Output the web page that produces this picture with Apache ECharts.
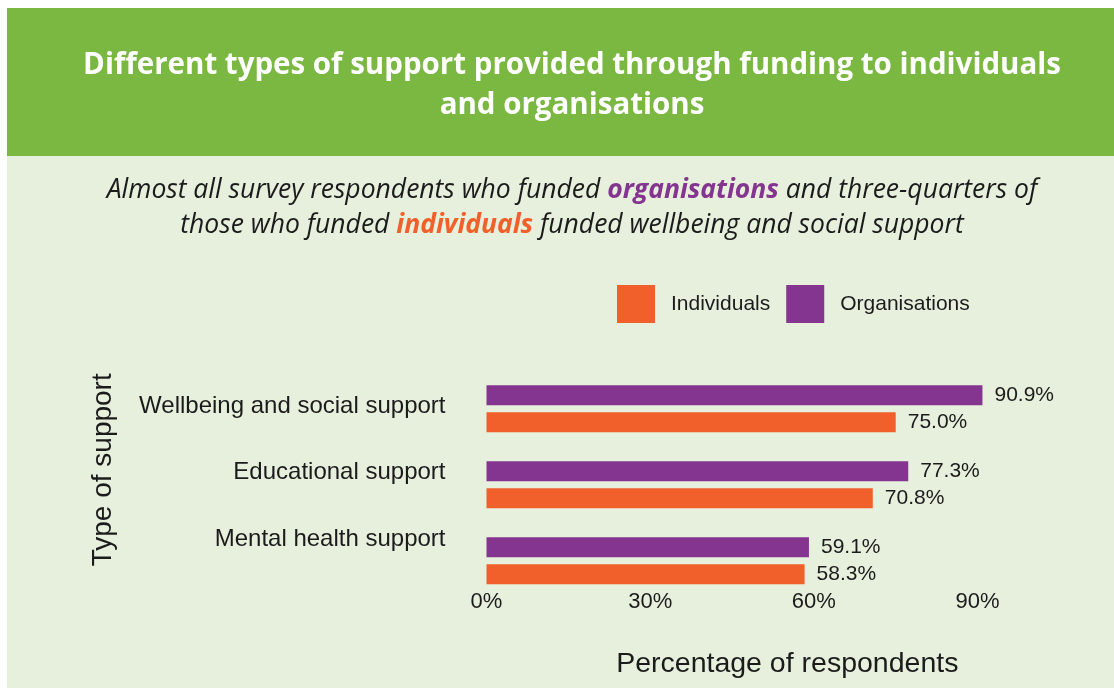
<!DOCTYPE html>
<html>
<head>
<meta charset="utf-8">
<title>Different types of support provided through funding</title>
<script src="https://cdn.jsdelivr.net/npm/echarts@6/dist/echarts.min.js"></script>
<style>
  html, body { margin: 0; padding: 0; background: #ffffff; }
  #chart { width: 1114px; height: 688px; }
</style>
</head>
<body>
<div id="chart"></div>
<script>
// Support types, listed from the bottom of the chart to the top
const categories = ['Mental health support', 'Educational support', 'Wellbeing and social support'];
// Share of respondents (%) who funded each type of support
const individuals = [58.3, 70.8, 75.0];
const organisations = [59.1, 77.3, 90.9];
const seriesNames = ['Individuals', 'Organisations'];
const axisTicks = { min: 0, max: 100, interval: 30 };

const ORANGE = '#F15F2A';
const PURPLE = '#84358F';
const GREEN = '#7AB842';
const PANEL = '#E7F0DD';
const INK = '#1b1b1b';
const SANS = '"Liberation Sans", Arial, sans-serif';
const HEAD = '"Open Sans", Lato, sans-serif';

const chart = echarts.init(document.getElementById('chart'));

const valueLabel = {
  show: true,
  position: 'right',
  distance: 12,
  color: INK,
  fontFamily: SANS,
  fontSize: 21,
  formatter: p => p.value.toFixed(1) + '%'
};

const plotLeft = 486.5;
const plotWidth = 545.6;

chart.setOption({
  backgroundColor: 'transparent',
  animation: false,
  graphic: [
    { type: 'rect', silent: true, z: -10, shape: { x: 7, y: 155, width: 1107, height: 533 }, style: { fill: PANEL } },
    { type: 'rect', silent: true, z: -10, shape: { x: 7, y: 8, width: 1107, height: 148 }, style: { fill: GREEN } }
  ],
  title: [
    {
      text: 'Different types of support provided through funding to individuals\nand organisations',
      left: 567,
      top: 41,
      textAlign: 'center',
      textStyle: {
        color: '#ffffff',
        fontFamily: HEAD,
        fontWeight: 'bold',
        fontSize: 29.5,
        lineHeight: 40
      }
    },
    {
      text: 'Almost all survey respondents who funded {o|organisations} and three-quarters of\nthose who funded {i|individuals} funded wellbeing and social support',
      left: 567,
      top: 168,
      textAlign: 'center',
      textStyle: {
        color: INK,
        fontFamily: HEAD,
        fontStyle: 'italic',
        fontWeight: 'normal',
        fontSize: 26.5,
        lineHeight: 35,
        rich: {
          o: { color: PURPLE, fontWeight: 'bold', fontStyle: 'italic', fontFamily: HEAD, fontSize: 26.5, lineHeight: 35 },
          i: { color: ORANGE, fontWeight: 'bold', fontStyle: 'italic', fontFamily: HEAD, fontSize: 26.5, lineHeight: 35 }
        }
      }
    }
  ],
  legend: {
    data: seriesNames,
    left: 612,
    top: 280,
    icon: 'rect',
    itemWidth: 38,
    itemHeight: 38,
    itemGap: 16,
    textStyle: {
      color: INK,
      fontFamily: SANS,
      fontSize: 21,
      padding: [0, 0, 0, 11]
    }
  },
  grid: [
    // bars
    { left: plotLeft, width: plotWidth, top: 370.8, height: 228, containLabel: false },
    // category labels, set on a tighter spacing than the bar groups
    { left: plotLeft, width: plotWidth, top: 372.8, height: 199.5, containLabel: false }
  ],
  xAxis: [
    {
      type: 'value',
      gridIndex: 0,
      min: axisTicks.min,
      max: axisTicks.max,
      interval: axisTicks.interval,
      name: 'Percentage of respondents',
      nameLocation: 'middle',
      nameGap: 51,
      nameTextStyle: {
        color: INK,
        fontFamily: SANS,
        fontSize: 28.5,
        padding: [0, 0, 0, 56]
      },
      axisLine: { show: false },
      axisTick: { show: false },
      splitLine: { show: false },
      axisLabel: {
        color: INK,
        fontFamily: SANS,
        fontSize: 22,
        margin: -8,
        showMaxLabel: false,
        formatter: v => v + '%'
      }
    },
    {
      type: 'value',
      gridIndex: 1,
      min: axisTicks.min,
      max: axisTicks.max,
      show: false
    }
  ],
  yAxis: [
    {
      type: 'category',
      gridIndex: 0,
      data: categories,
      name: 'Type of support',
      nameLocation: 'middle',
      nameGap: 369,
      nameRotate: 90,
      nameTextStyle: {
        color: INK,
        fontFamily: SANS,
        fontSize: 28,
        padding: [0, 0, 0, 30]
      },
      axisLine: { show: false },
      axisTick: { show: false },
      splitLine: { show: false },
      axisLabel: { show: false }
    },
    {
      type: 'category',
      gridIndex: 1,
      data: categories,
      axisLine: { show: false },
      axisTick: { show: false },
      splitLine: { show: false },
      axisLabel: {
        color: INK,
        fontFamily: SANS,
        fontSize: 24,
        margin: 41
      }
    }
  ],
  // Organisations is listed first so its bar sits above Individuals in each group
  series: [
    {
      name: seriesNames[1],
      type: 'bar',
      xAxisIndex: 0,
      yAxisIndex: 0,
      data: organisations,
      barWidth: 20,
      barGap: '35%',
      itemStyle: { color: PURPLE },
      label: valueLabel
    },
    {
      name: seriesNames[0],
      type: 'bar',
      xAxisIndex: 0,
      yAxisIndex: 0,
      data: individuals,
      barWidth: 20,
      barGap: '35%',
      itemStyle: { color: ORANGE },
      label: valueLabel
    }
  ]
});
</script>
</body>
</html>
